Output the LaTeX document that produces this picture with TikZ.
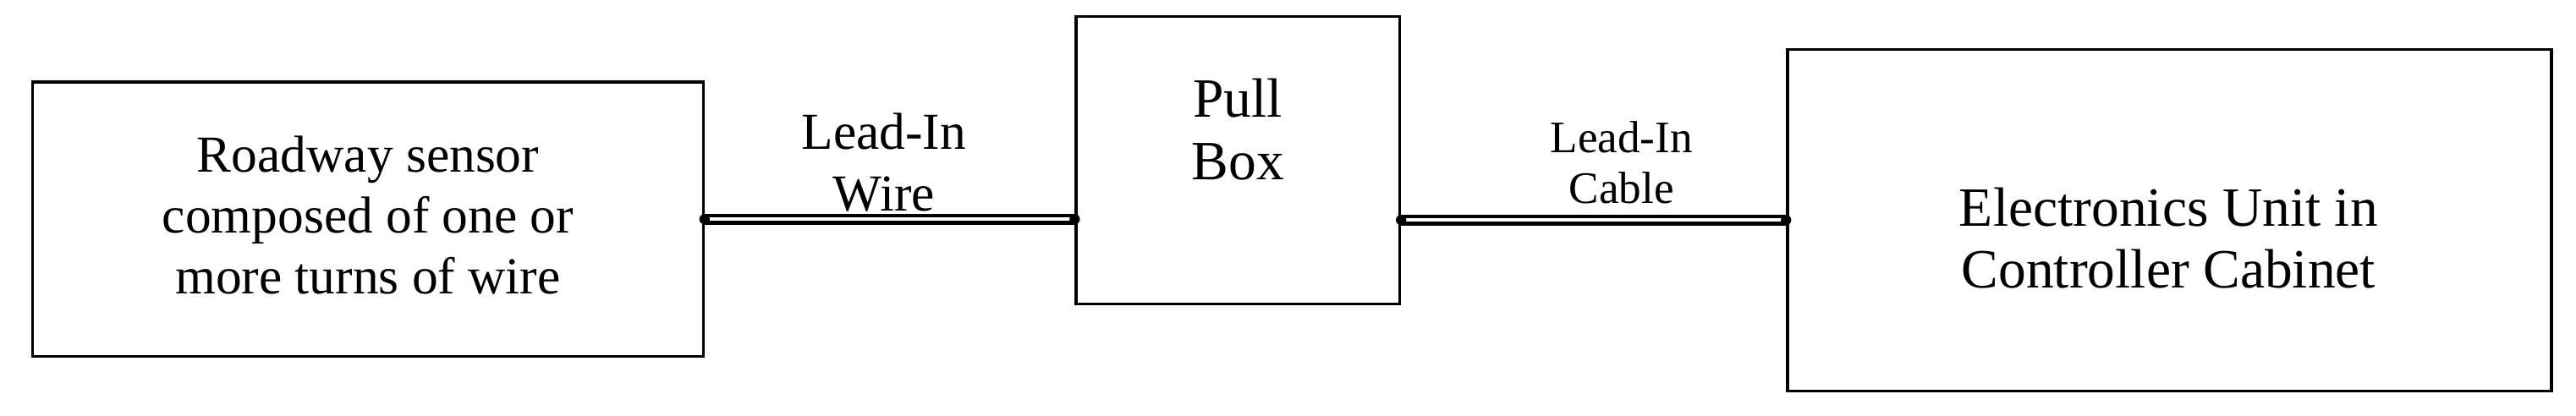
\documentclass[tikz,border=0pt]{standalone}
\usepackage{fontspec}
\setmainfont{Liberation Serif}
\begin{document}
\begin{tikzpicture}[x=0.05cm,y=-0.05cm,
  box/.style={draw,line width=2.4pt,inner sep=0pt},
  txt/.style={align=center,font=\fontsize{45}{53}\selectfont},
  big/.style={align=center,font=\fontsize{48}{54}\selectfont},
  small/.style={align=center,font=\fontsize{39}{44}\selectfont},
  wire/.style={line width=3.6pt,double,double distance=2.6pt},
  dot/.style={circle,fill,inner sep=0pt,minimum size=9pt}]
\useasboundingbox (0,0) rectangle (1568,253);
\node[box,minimum width=408*0.05cm,minimum height=167*0.05cm] (a) at (224,133.5) {};
\node[box,minimum width=197*0.05cm,minimum height=175*0.05cm] (b) at (753.5,97.5) {};
\node[box,minimum width=465*0.05cm,minimum height=208*0.05cm] (c) at (1320.5,134) {};
\node[txt] (ta) at (224,131) {Roadway sensor\\composed of one or\\more turns of wire};
\node[big] (tb) at (753.5,79) {Pull\\Box};
\node[big] (tc) at (1320,145) {Electronics Unit in\\Controller Cabinet};
\node[txt] (lw) at (538,99) {Lead-In\\Wire};
\node[small] (lc) at (987,99) {Lead-In\\Cable};
\coordinate (p1) at (a.east);
\coordinate (p2) at (a.east -| b.west);
\coordinate (p3) at (c.west -| b.east);
\coordinate (p4) at (c.west);
\draw[wire] (p1) -- (p2);
\draw[wire] (p3) -- (p4);
\foreach \p in {p1,p2,p3,p4} \node[dot] at (\p) {};
\end{tikzpicture}
\end{document}
